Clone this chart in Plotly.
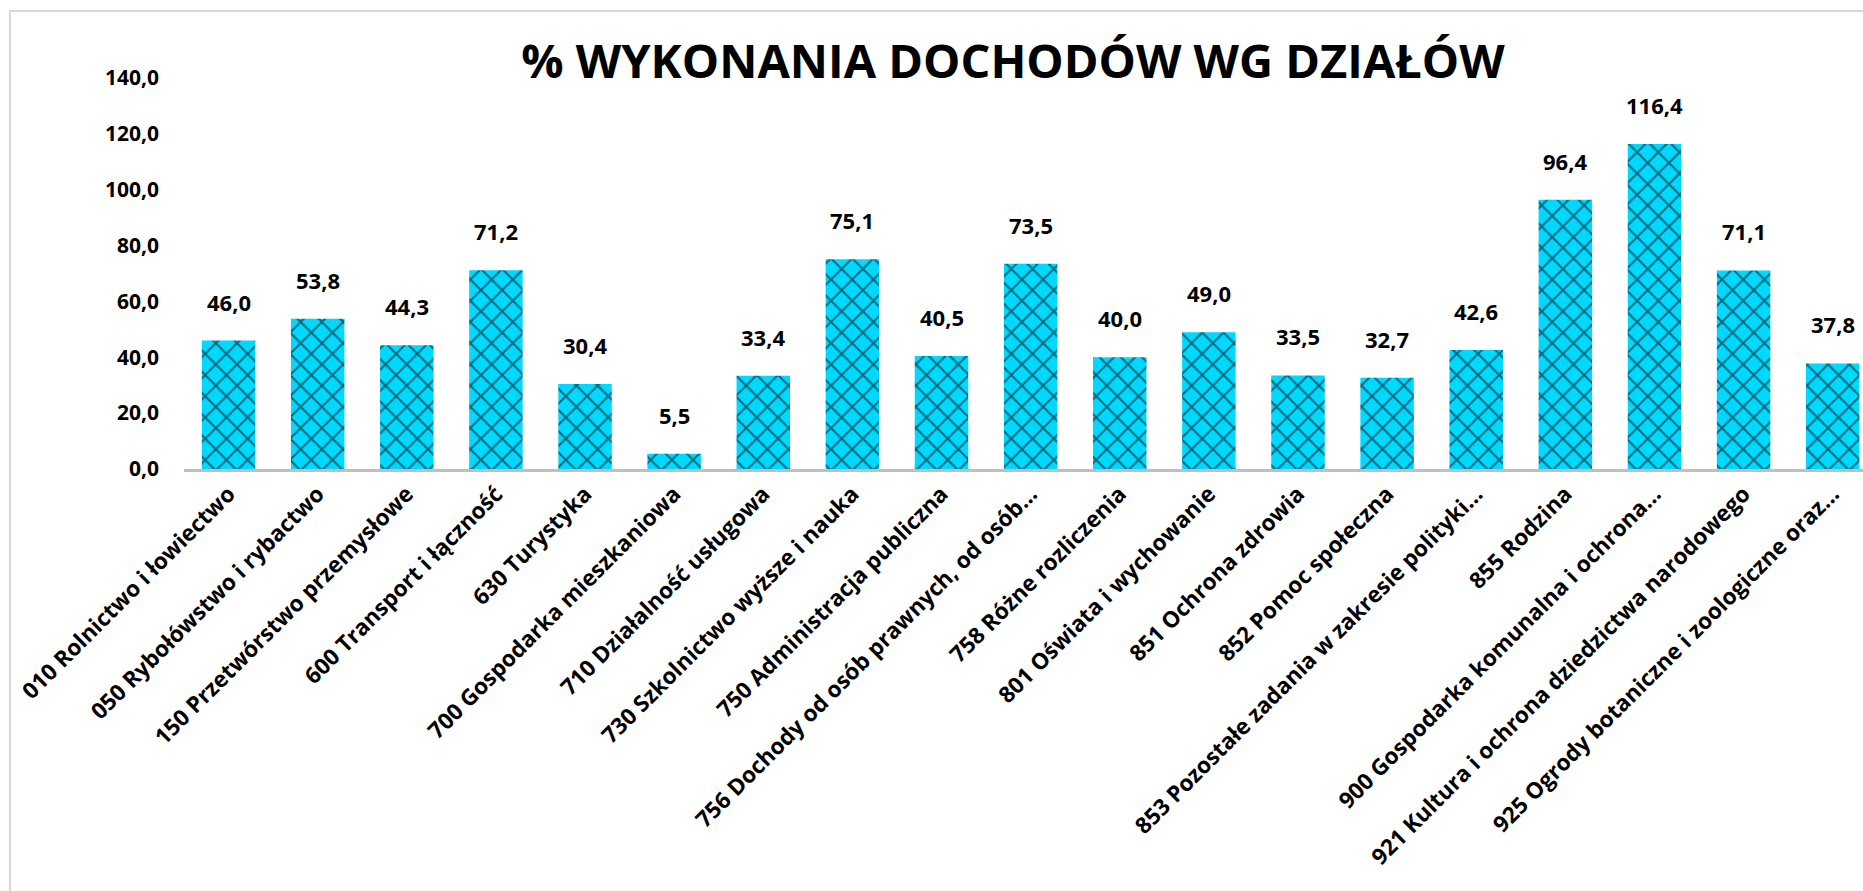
import plotly.graph_objects as go

# działy budżetowe (etykiety jak na wykresie, z obcięciem)
categories = [
    "010 Rolnictwo i łowiectwo",
    "050 Rybołówstwo i rybactwo",
    "150 Przetwórstwo przemysłowe",
    "600 Transport i łączność",
    "630 Turystyka",
    "700 Gospodarka mieszkaniowa",
    "710 Działalność usługowa",
    "730 Szkolnictwo wyższe i nauka",
    "750 Administracja publiczna",
    "756 Dochody od osób prawnych, od osób…",
    "758 Różne rozliczenia",
    "801 Oświata i wychowanie",
    "851 Ochrona zdrowia",
    "852 Pomoc społeczna",
    "853 Pozostałe zadania w zakresie polityki…",
    "855 Rodzina",
    "900 Gospodarka komunalna i ochrona…",
    "921 Kultura i ochrona dziedzictwa narodowego",
    "925 Ogrody botaniczne i zoologiczne oraz…",
]

# % wykonania dochodów
values = [46.0, 53.8, 44.3, 71.2, 30.4, 5.5, 33.4, 75.1, 40.5, 73.5,
          40.0, 49.0, 33.5, 32.7, 42.6, 96.4, 116.4, 71.1, 37.8]

y_ticks = [0, 20, 40, 60, 80, 100, 120, 140]

title = "% WYKONANIA DOCHODÓW WG DZIAŁÓW"

FONT = "Open Sans"

W, H = 1863, 891
ML, MR, MT, MB = 184, 0, 78, 422

fig = go.Figure()

fig.add_trace(
    go.Bar(
        x=categories,
        y=values,
        marker=dict(
            color="#00D9FF",
            line=dict(width=0),
            pattern=dict(
                shape="x",
                fgcolor="black",
                size=15,
                solidity=0.26,
                fillmode="overlay",
            ),
        ),
        hoverinfo="x+y",
    )
)

# etykiety danych nad słupkami
for cat, val in zip(categories, values):
    fig.add_annotation(
        x=cat,
        y=val,
        text=f"{val:.1f}".replace(".", ","),
        showarrow=False,
        yanchor="bottom",
        yshift=22,
        font=dict(family=FONT, size=22, color="black", weight="bold"),
    )

# ramka obszaru wykresu (jasnoszara)
plot_w = W - ML - MR
plot_h = H - MT - MB
fig.add_shape(
    type="rect",
    xref="paper",
    yref="paper",
    x0=(10 - ML) / plot_w,
    x1=1.05,
    y0=-(MB + 20) / plot_h,
    y1=1 + (MT - 11) / plot_h,
    line=dict(color="#D9D9D9", width=2),
    layer="below",
)

fig.update_layout(
    width=W,
    height=H,
    margin=dict(l=ML, r=MR, t=MT, b=MB),
    paper_bgcolor="white",
    plot_bgcolor="white",
    separators=", ",
    bargap=0.4,
    showlegend=False,
    title=dict(
        text=title,
        x=1013 / W,
        xanchor="center",
        xref="container",
        y=1 - 62 / H,
        yanchor="middle",
        yref="container",
        font=dict(family=FONT, size=47, color="black", weight="bold"),
    ),
)

fig.update_xaxes(
    type="category",
    range=[-0.5, 18.34],
    tickangle=-45,
    showline=True,
    linecolor="#BFBFBF",
    linewidth=3,
    showgrid=False,
    ticks="",
    automargin=False,
    tickfont=dict(family=FONT, size=22.5, color="black", weight="bold"),
)

fig.update_yaxes(
    range=[0, 140],
    tickvals=y_ticks,
    tickformat=".1f",
    showline=False,
    showgrid=False,
    zeroline=False,
    ticks="",
    ticklabelstandoff=24,
    automargin=False,
    tickfont=dict(family=FONT, size=21, color="black", weight="bold"),
)

# strona bez marginesu body, żeby wykres wypełnił całe okno
fig.write_html(
    "out.html",
    config={"displayModeBar": False},
    post_script="document.body.style.margin='0';document.body.style.overflow='hidden';",
)
